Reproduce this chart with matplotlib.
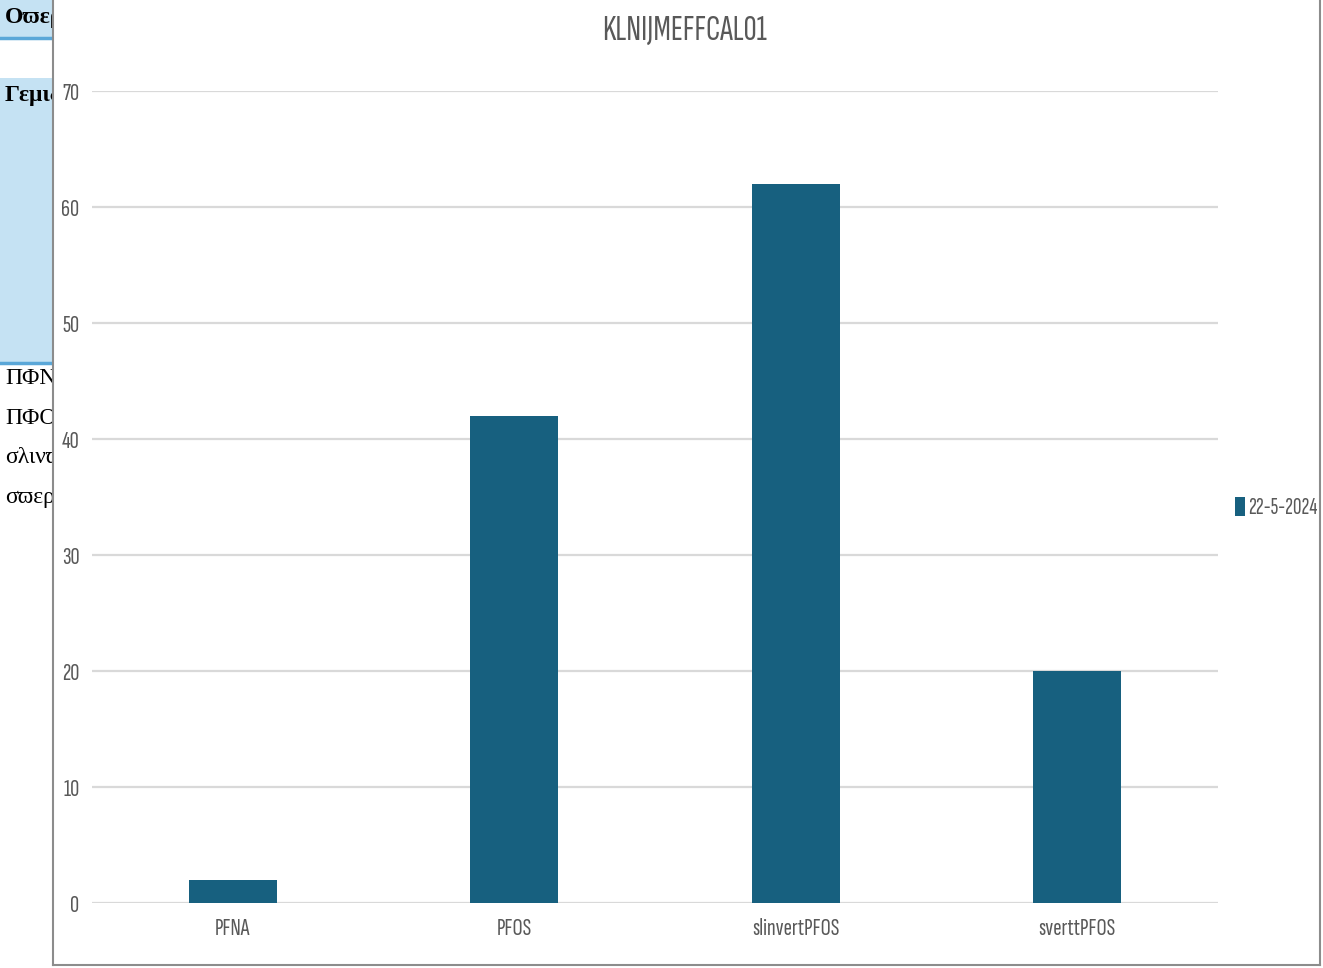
import matplotlib
matplotlib.use("Agg")
import matplotlib.pyplot as plt
from matplotlib.patches import Rectangle

categories = ["PFNA", "PFOS", "slinvertPFOS", "sverttPFOS"]
values = [2, 42, 62, 20]
series_name = "22-5-2024"
title = "KLNIJMEFFCAL01"
y_ticks = [0, 10, 20, 30, 40, 50, 60, 70]

# spreadsheet cells peeking out behind the chart object
sheet_rows = [("Οϖερσ", 18, True), ("Γεμιδδ", 95, True),
              ("ΠΦΝΑ", 378, False), ("ΠΦΟΣ", 418, False),
              ("σλινϖε", 458, False), ("σϖερτι", 498, False)]

W, H = 1323, 968
plt.rcParams["font.family"] = ["Sofia Sans Extra Condensed", "DejaVu Sans"]

fig = plt.figure(figsize=(W / 100, H / 100), dpi=100)
fig.patch.set_facecolor("white")

def px(x, y):
    return x / W, 1 - y / H

cell_blue = "#C5E2F3"
line_blue = "#5AA7D8"
fig.patches.append(Rectangle(px(0, 37), 60 / W, 37 / H, transform=fig.transFigure,
                             facecolor=cell_blue, edgecolor="none", zorder=1))
fig.patches.append(Rectangle(px(0, 362), 60 / W, (362 - 78) / H, transform=fig.transFigure,
                             facecolor=cell_blue, edgecolor="none", zorder=1))
for yy in (37.5, 363):
    fig.lines.append(plt.Line2D([0, 60 / W], [1 - yy / H] * 2, transform=fig.transFigure,
                                color=line_blue, lw=2.5, zorder=2))
sheet_clip = Rectangle((0, 0), 53, H, transform=None)
for txt, yy, bold in sheet_rows:
    t = fig.text(*px(5, yy), txt, family=["Liberation Serif", "DejaVu Serif"],
                 fontsize=17, va="center", ha="left", color="black",
                 fontweight="bold" if bold else "normal", zorder=3)
    t.set_clip_path(sheet_clip)

# chart object frame (covers the sheet)
frame = fig.add_axes([53 / W, 1 - 965 / H, (1320 - 53) / W, 965 / H + 0.01])
frame.set_zorder(5)
frame.set_xticks([])
frame.set_yticks([])
frame.set_facecolor("white")
for s in frame.spines.values():
    s.set_color("#8C8C8C")
    s.set_linewidth(1.5)
frame.spines["top"].set_visible(False)

ax = fig.add_axes([92 / W, 1 - 903 / H, (1218 - 92) / W, (903 - 91) / H])
ax.set_zorder(6)
ax.patch.set_alpha(0)

x = range(len(categories))
bars = ax.bar(x, values, width=0.314, color="#17607F", zorder=3, label=series_name)
ax.set_xlim(-0.5, len(categories) - 0.5)
ax.set_ylim(0, 70)
ax.set_yticks(y_ticks)
ax.set_xticks(list(x))
ax.set_xticklabels(categories)
ax.grid(axis="y", color="#D9D9D9", lw=1.6, zorder=0)
ax.set_axisbelow(True)
for s in ax.spines.values():
    s.set_visible(False)
ax.tick_params(axis="both", length=0, labelsize=18, labelcolor="#595959")
ax.tick_params(axis="y", pad=9)
ax.tick_params(axis="x", pad=11)

fig.text(*px(685, 31), title, fontsize=26, color="#595959", ha="center", va="center", zorder=7)

leg = fig.legend(handles=[bars], labels=[series_name], loc="center left",
                 bbox_to_anchor=px(1228, 508), frameon=False, fontsize=17,
                 handlelength=0.4, handleheight=0.9, handletextpad=0.15,
                 borderaxespad=0, borderpad=0.3, labelcolor="#595959")
leg.set_zorder(8)

fig.savefig("out.png", dpi=100)
